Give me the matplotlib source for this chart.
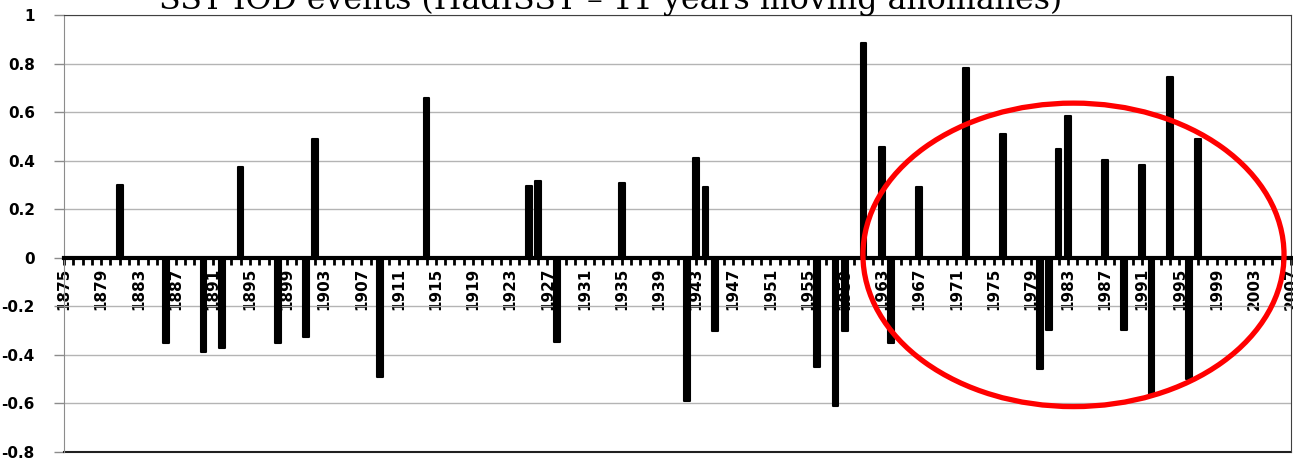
import matplotlib.pyplot as plt
import numpy as np
from matplotlib.patches import Ellipse

# IOD event years and SST anomaly values
years = [1881, 1886, 1890, 1892, 1894, 1898, 1901, 1902, 1909, 1914,
         1925, 1926, 1928, 1935, 1942, 1943, 1944, 1945, 1956, 1958,
         1959, 1961, 1963, 1964, 1967, 1972, 1976, 1980, 1981, 1982,
         1983, 1987, 1989, 1991, 1992, 1994, 1996, 1997]
values = [0.30, -0.35, -0.39, -0.37, 0.375, -0.35, -0.325, 0.49, -0.49, 0.66,
          0.295, 0.317, -0.345, 0.31, -0.59, 0.41, 0.29, -0.30, -0.45, -0.61,
          -0.30, 0.885, 0.457, -0.35, 0.29, 0.78, 0.51, -0.457, -0.296, 0.448,
          0.584, 0.403, -0.296, 0.383, -0.57, 0.745, -0.50, 0.49]

tick_years = list(range(1875, 2008, 4))
y_ticks = [1, 0.8, 0.6, 0.4, 0.2, 0, -0.2, -0.4, -0.6, -0.8]
y_labels = ["1", "0.8", "0.6", "0.4", "0.2", "0", "-0.2", "-0.4", "-0.6", "-0.8"]

W, H = 1293, 462
fig = plt.figure(figsize=(W / 100, H / 100), dpi=100)
ax = fig.add_axes([64 / W, 10 / H, (1291 - 64) / W, (452 - 15) / H])

# thin bars with a round-joined edge, gives the soft ends of the original
ax.bar(years, values, width=0.62, color="black", edgecolor="black",
       linewidth=1.5, joinstyle="round", zorder=3)

ax.set_xlim(1875, 2007)
ax.set_ylim(-0.8, 1)

# y axis
ax.set_yticks(y_ticks)
ax.set_yticklabels(y_labels, fontsize=11, fontweight="bold")
ax.tick_params(axis="y", length=7, width=1, color="#8c8c8c", pad=14)
ax.grid(axis="y", color="#b4b4b4", linewidth=1)
ax.set_axisbelow(True)

# x axis sits on zero
ax.spines["bottom"].set_position(("data", 0))
ax.spines["bottom"].set_linewidth(3)
ax.spines["bottom"].set_zorder(2.6)
ax.set_xticks(tick_years)
ax.set_xticks(range(1875, 2008), minor=True)
ax.set_xticklabels([str(y) for y in tick_years], rotation=90,
                   fontsize=11, fontweight="bold")
ax.tick_params(axis="x", which="both", direction="out", length=5, width=2,
               color="black", pad=2)
for lab in ax.get_xticklabels():
    lab.set_va("top")

ax.spines["left"].set_color("#8c8c8c")
ax.spines["top"].set_color("#404040")
ax.spines["right"].set_color("#404040")
ax.axhline(-0.8, color="#202020", linewidth=1.5, clip_on=False)

# red ring round the recent events
ring = Ellipse((1983.6, 0.012), 45.3, 1.25, fill=False, edgecolor="#ff0000",
               linewidth=3.8, zorder=5, clip_on=False)
ax.add_patch(ring)

fig.text(0.472, 1 - 9 / H, "SST IOD events (HadISST \u2013 11 years moving anomalies)",
         ha="center", va="baseline", family="DejaVu Serif", fontsize=22.8)

fig.savefig("out.png", dpi=100)
